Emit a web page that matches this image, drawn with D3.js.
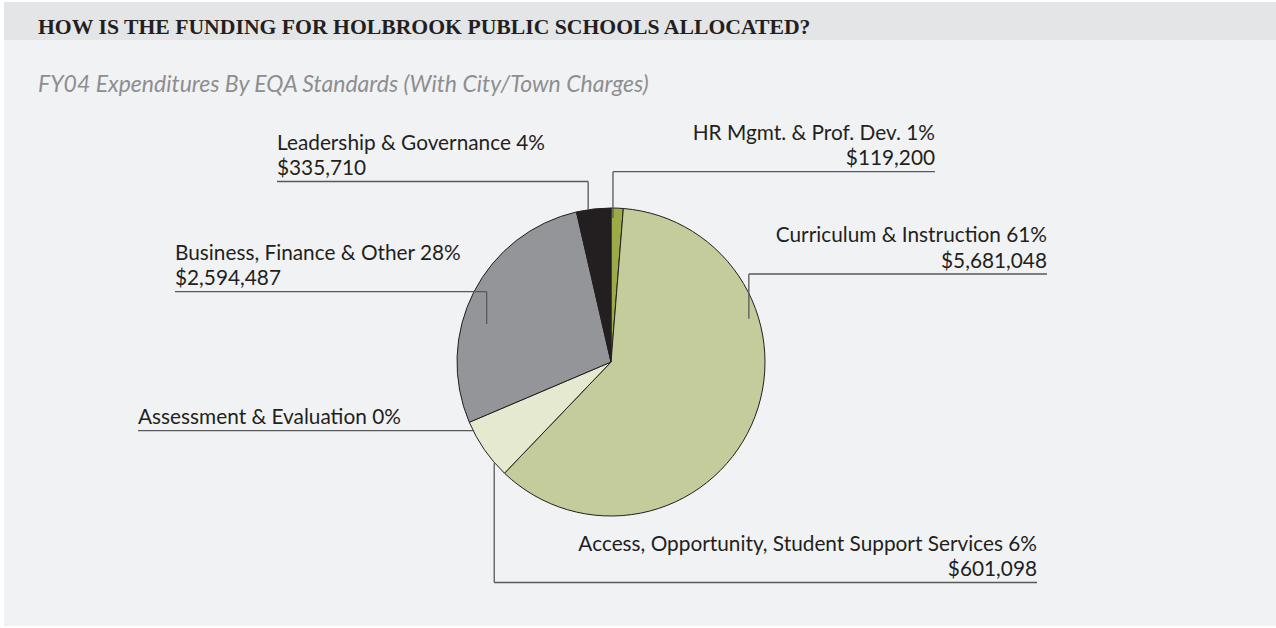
<!DOCTYPE html>
<html>
<head>
<meta charset="utf-8">
<script src="https://cdn.jsdelivr.net/npm/d3@7"></script>
<style>
  body { margin: 0; background: #ffffff; }
  svg { display: block; }
</style>
</head>
<body>
<div id="container"></div>
<script>
/* CONSTANTS AND GLOBALS */
const width = 1276,
  height = 628,
  radius = 154,
  center = { x: 611, y: 362 };

/* DATA */
const categories = [
  "HR Mgmt. & Prof. Dev.",
  "Curriculum & Instruction",
  "Access, Opportunity, Student Support Services",
  "Assessment & Evaluation",
  "Business, Finance & Other",
  "Leadership & Governance"
];
const amounts = [119200, 5681048, 601098, 0, 2594487, 335710];
const showAmount = [true, true, true, false, true, true];
const sliceColors = ["#9aab47", "#c3cc9a", "#e4e9d0", "#e4e9d0", "#939598", "#231f20"];

// label placement: text anchor x, underline y, where the leader meets the slice
const labelLayout = [
  { x: 935, uy: 171.7, align: "end", t: 0.17, r: 144 },
  { x: 1047, uy: 274, align: "end", t: 0.31, r: 144.5 },
  { x: 1037, uy: 582.5, align: "end", t: 0.23, r: 154.5 },
  { x: 138, uy: 430.7, align: "start", edge: true },
  { x: 175, uy: 291.7, align: "start", t: 0.40, r: 130 },
  { x: 277, uy: 181.5, align: "start", t: 0.34, r: 153.7 }
];

const data = categories.map((c, i) => ({
  name: c,
  amount: amounts[i],
  showAmount: showAmount[i],
  color: sliceColors[i],
  layout: labelLayout[i]
}));

const total = d3.sum(amounts);
const fmtPct = d3.format(".0%");
const fmtMoney = d3.format("$,");

/* SVG */
const svg = d3.select("#container").append("svg")
  .attr("width", width)
  .attr("height", height);

svg.append("rect")
  .attr("x", 4).attr("y", 2)
  .attr("width", width - 4).attr("height", 624)
  .attr("fill", "#f1f2f4");

svg.append("rect")
  .attr("x", 4).attr("y", 2)
  .attr("width", width - 4).attr("height", 38)
  .attr("fill", "#e4e5e7");

svg.append("text")
  .attr("x", 38).attr("y", 34)
  .attr("font-family", "'Liberation Serif', 'DejaVu Serif', serif")
  .attr("font-size", "21.7px")
  .attr("font-weight", "bold")
  .attr("fill", "#231f20")
  .text("HOW IS THE FUNDING FOR HOLBROOK PUBLIC SCHOOLS ALLOCATED?");

svg.append("text")
  .attr("x", 38).attr("y", 92)
  .attr("font-family", "Lato, 'Open Sans', sans-serif")
  .attr("font-style", "italic")
  .attr("font-size", "23px")
  .attr("fill", "#8e8e90")
  .text("FY04 Expenditures By EQA Standards (With City/Town Charges)");

/* PIE */
const pie = d3.pie().sort(null).value(d => d.amount).startAngle(0).endAngle(2 * Math.PI);
const arc = d3.arc().innerRadius(0).outerRadius(radius);
const arcs = pie(data);

const g = svg.append("g")
  .attr("transform", `translate(${center.x}, ${center.y})`);

g.selectAll("path")
  .data(arcs.filter(d => d.data.amount > 0))
  .join("path")
  .attr("d", arc)
  .attr("fill", d => d.data.color)
  .attr("stroke", "#231f20")
  .attr("stroke-width", 1)
  .attr("stroke-linejoin", "round");

/* LABELS + LEADERS */
function anchorPoint(d) {
  const L = d.data.layout;
  if (L.edge) {
    // zero slice: leader stops at the pie edge on the underline
    const dy = L.uy - center.y;
    return [center.x - Math.sqrt(radius * radius - dy * dy), L.uy];
  }
  const a = d.startAngle + L.t * (d.endAngle - d.startAngle);
  return [center.x + L.r * Math.sin(a), center.y - L.r * Math.cos(a)];
}

const labels = svg.append("g");

arcs.forEach(d => {
  const L = d.data.layout;
  const [ax, ay] = anchorPoint(d);
  const x0 = L.align === "start" ? L.x : ax;
  const x1 = L.align === "start" ? ax : L.x;

  labels.append("path")
    .attr("d", `M${x0},${L.uy}H${x1}` + (L.edge ? "" : `M${ax},${L.uy}V${ay}`))
    .attr("fill", "none")
    .attr("stroke", "#58595b")
    .attr("stroke-width", 1.3);

  const lines = [`${d.data.name} ${fmtPct(d.data.amount / total)}`];
  if (d.data.showAmount) lines.push(fmtMoney(d.data.amount));

  labels.append("g").selectAll("text")
    .data(lines.reverse())
    .join("text")
    .attr("x", L.x)
    .attr("y", (s, i) => L.uy - 6.5 - i * 25.5)
    .attr("text-anchor", L.align)
    .attr("font-family", "Lato, 'Open Sans', sans-serif")
    .attr("font-size", "20.8px")
    .attr("fill", "#231f20")
    .text(s => s);
});
</script>
</body>
</html>
